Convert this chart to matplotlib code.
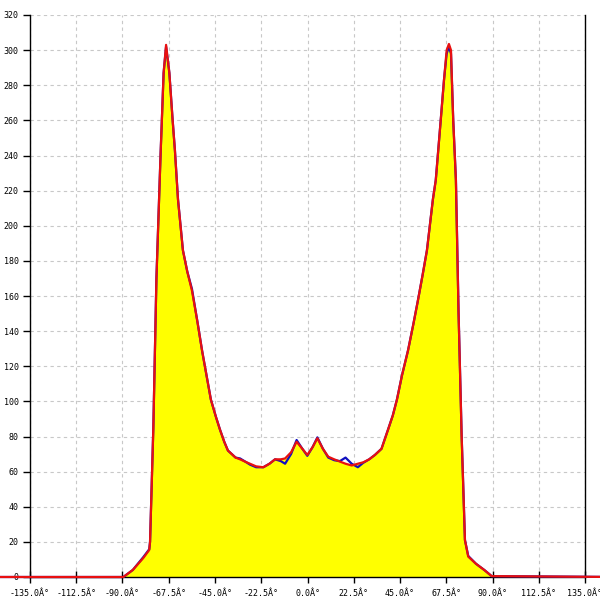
import matplotlib
matplotlib.use('Agg')
import matplotlib.pyplot as plt

# angle (deg) vs counts
angle = [-150, -89.6, -85, -79.9, -77, -76.6, -75, -73.5, -71.5, -70, -68.8, -67.2,
         -65.6, -64.5, -63, -60.6, -58.5, -56.2, -53.5, -51.3, -49, -47, -44.5, -42.6,
         -40.5, -38.7, -35, -32.8, -30, -28, -25, -21.5, -18.5, -15.8, -13, -10.9,
         -8, -5.3, -2.5, -0.1, 2.5, 4.8, 7.5, 10.1, 13, 15.8, 18.5, 21.5, 24.5, 27.1,
         30, 32.8, 36, 39.2, 41.5, 43.5, 46, 48.9, 51.5, 53.8, 56, 58.1, 61, 62.4,
         64.8, 66.4, 67.7, 68.8, 69.8, 70.9, 72.2, 73.5, 75, 76.6, 78.2, 82, 86,
         89.6, 150]
red = [0, 0, 4, 10.8, 15.4, 20, 85, 170, 240, 287, 303, 287,
       260, 243, 215, 186, 174, 163, 145, 129, 114, 101, 91, 84,
       77, 72, 68, 67, 65.5, 64.5, 63, 62.5, 64.5, 67, 67, 67.5,
       71, 77, 73, 69.5, 74, 79, 73, 68.5, 67, 65.7, 64.5, 63.5, 64.5, 65.3,
       67, 69.5, 73, 84, 92, 101, 115, 129, 144, 158, 172, 186, 215, 226,
       260, 283, 300, 303.5, 300, 260, 226, 150, 80, 21, 11.6, 7.5, 4,
       0.5, 0]
blue = [0, 0, 4, 11.3, 15.8, 20, 85, 170, 240, 287, 302, 287,
        260, 243, 215, 186, 174, 164, 145, 129, 114, 101, 91, 84,
        77, 72, 68, 67.5, 65.5, 64, 62.5, 62.5, 64.5, 67, 66, 64.5,
        70, 78, 73, 69, 74, 79.5, 73, 68, 66.5, 66, 68, 64.5, 62.5, 65,
        67, 69.5, 73, 84, 92, 101, 115, 129, 144, 158, 172, 186, 215, 226,
        260, 283, 298, 302, 298, 260, 226, 150, 80, 21, 12, 7.5, 4,
        0.5, 0]

xticks = [-135, -112.5, -90, -67.5, -45, -22.5, 0, 22.5, 45, 67.5, 90, 112.5, 135]
yticks = list(range(0, 321, 20))

fig = plt.figure(figsize=(6, 6), dpi=100)
ax = fig.add_axes([30 / 600, 23 / 600, 555 / 600, 562 / 600])

ax.fill_between(angle, red, 0, color='#ffff00', zorder=1, linewidth=0)
ax.plot(angle, blue, color='#1010c0', lw=1.6, zorder=3, clip_on=False)
ax.plot(angle, red, color='#e81010', lw=1.6, zorder=4, clip_on=False)

ax.set_xlim(-135, 135)
ax.set_ylim(0, 320)
ax.set_xticks(xticks)
ax.set_xticklabels([f'{t:.1f}Â°' for t in xticks])
ax.set_yticks(yticks)
ax.set_yticklabels([str(t) for t in yticks])

for lab in ax.get_xticklabels() + ax.get_yticklabels():
    lab.set_fontfamily('DejaVu Sans Mono')
    lab.set_fontsize(6)

ax.tick_params(axis='x', direction='inout', length=8, width=1, pad=5)
ax.tick_params(axis='y', direction='out', length=5, width=1, pad=3)

ax.grid(True, color='#c8c8c8', linestyle=(0, (3, 3)), linewidth=0.8)
ax.set_axisbelow(True)
ax.spines['top'].set_visible(False)
for s in ['left', 'right', 'bottom']:
    ax.spines[s].set_color('black')
    ax.spines[s].set_linewidth(1)

fig.savefig('out.png', dpi=100)
